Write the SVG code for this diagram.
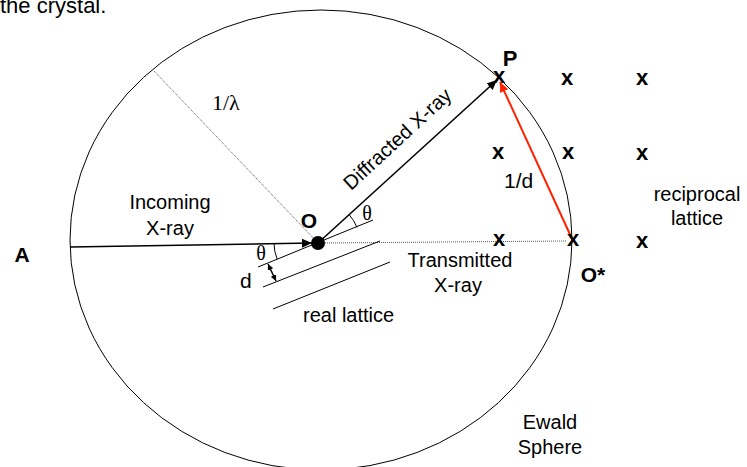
<svg xmlns="http://www.w3.org/2000/svg" width="747" height="467" viewBox="0 0 747 467">
<defs>
<style>
.t{font-family:"Liberation Sans",Arial,sans-serif;font-size:20px;fill:#000}
.b{font-family:"Liberation Sans",Arial,sans-serif;font-size:21px;font-weight:bold;fill:#000}
.x{font-family:"Liberation Sans",Arial,sans-serif;font-size:22px;font-weight:bold;fill:#000;text-anchor:middle}
.s{font-family:"Liberation Serif","Times New Roman",serif;fill:#000}
.ln{stroke:#000;fill:none}
.dot{stroke:#555;stroke-width:1;stroke-dasharray:1 1;fill:none}
</style>
<marker id="ah" markerUnits="userSpaceOnUse" markerWidth="11" markerHeight="9" refX="10" refY="4.5" orient="auto"><path d="M0,0 L10,4.5 L0,9 z" fill="#000"/></marker>
<marker id="ahr" markerUnits="userSpaceOnUse" markerWidth="11" markerHeight="9" refX="10" refY="4.5" orient="auto"><path d="M0,0 L10,4.5 L0,9 z" fill="#ff2200"/></marker>
<marker id="ahs" markerUnits="userSpaceOnUse" markerWidth="7" markerHeight="6" refX="6" refY="3" orient="auto-start-reverse"><path d="M0,0 L6,3 L0,6 z" fill="#000"/></marker>
</defs>
<rect width="747" height="467" fill="#fff"/>
<text class="t" x="0" y="13" style="font-size:22px">the crystal.</text>

<g id="ewald-sphere">
<ellipse cx="321" cy="240" rx="251" ry="230" fill="none" stroke="#000" stroke-width="1"/>
<text class="t" x="550" y="429" text-anchor="middle">Ewald</text>
<text class="t" x="550" y="454" text-anchor="middle">Sphere</text>
</g>

<g id="connectors">
<line class="dot" x1="154" y1="71" x2="318" y2="243"/>
<line class="dot" x1="325" y1="243" x2="566" y2="241"/>
<line class="ln" x1="70" y1="247" x2="312" y2="243" stroke-width="1.6" marker-end="url(#ah)"/>
<line class="ln" x1="318" y1="243" x2="497" y2="80" stroke-width="1.6" marker-end="url(#ah)"/>
<line x1="573" y1="241" x2="500" y2="82" stroke="#ff2200" stroke-width="2" marker-end="url(#ahr)"/>
<line class="ln" x1="268" y1="264" x2="276" y2="281" stroke-width="1.5" marker-start="url(#ahs)" marker-end="url(#ahs)"/>
</g>

<g id="real-lattice">
<line class="ln" x1="258" y1="267" x2="373" y2="220" stroke-width="1"/>
<line class="ln" x1="263" y1="287" x2="380" y2="241" stroke-width="1"/>
<line class="ln" x1="273" y1="309" x2="390" y2="262" stroke-width="1"/>
<path class="ln" d="M349,214.5 A42,42 0 0 1 357,227.4" stroke-width="1"/>
<path class="ln" d="M274,243 A44,44 0 0 0 277.2,259.3" stroke-width="1"/>
<text class="s" x="367" y="220" font-size="20" text-anchor="middle">θ</text>
<text class="s" x="261" y="260" font-size="20" text-anchor="middle">θ</text>
<text class="t" x="240" y="288" style="font-size:21px">d</text>
<text class="t" x="303" y="322">real lattice</text>
</g>

<g id="node-O">
<circle cx="318" cy="243" r="7" fill="#000"/>
<text class="b" x="309" y="228" text-anchor="middle">O</text>
</g>

<g id="node-A">
<text class="b" x="22" y="262" text-anchor="middle">A</text>
</g>

<g id="labels">
<text class="s" x="212" y="110" font-size="22">1/λ</text>
<text class="t" x="170" y="209" text-anchor="middle">Incoming</text>
<text class="t" x="170" y="235" text-anchor="middle">X-ray</text>
<text class="t" x="460" y="267" text-anchor="middle">Transmitted</text>
<text class="t" x="458" y="292" text-anchor="middle">X-ray</text>
<text class="t" text-anchor="middle" transform="translate(402,144) rotate(-42.7)">Diffracted X-ray</text>
<text class="t" x="504" y="188" style="font-size:21px">1/d</text>
<text class="t" x="697" y="201" text-anchor="middle">reciprocal</text>
<text class="t" x="697" y="225" text-anchor="middle">lattice</text>
</g>

<g id="node-P">
<text class="x" x="499" y="83">x</text>
<text class="b" x="510" y="66" text-anchor="middle" style="font-size:22px">P</text>
</g>

<g id="node-Ostar">
<text class="x" x="573" y="246">x</text>
<text class="b" x="593" y="282" text-anchor="middle">O*</text>
</g>

<g id="reciprocal-lattice">
<text class="x" x="567" y="85">x</text>
<text class="x" x="642" y="85">x</text>
<text class="x" x="498" y="159">x</text>
<text class="x" x="568" y="159">x</text>
<text class="x" x="642" y="160">x</text>
<text class="x" x="499" y="246">x</text>
<text class="x" x="642" y="248">x</text>
</g>
</svg>
